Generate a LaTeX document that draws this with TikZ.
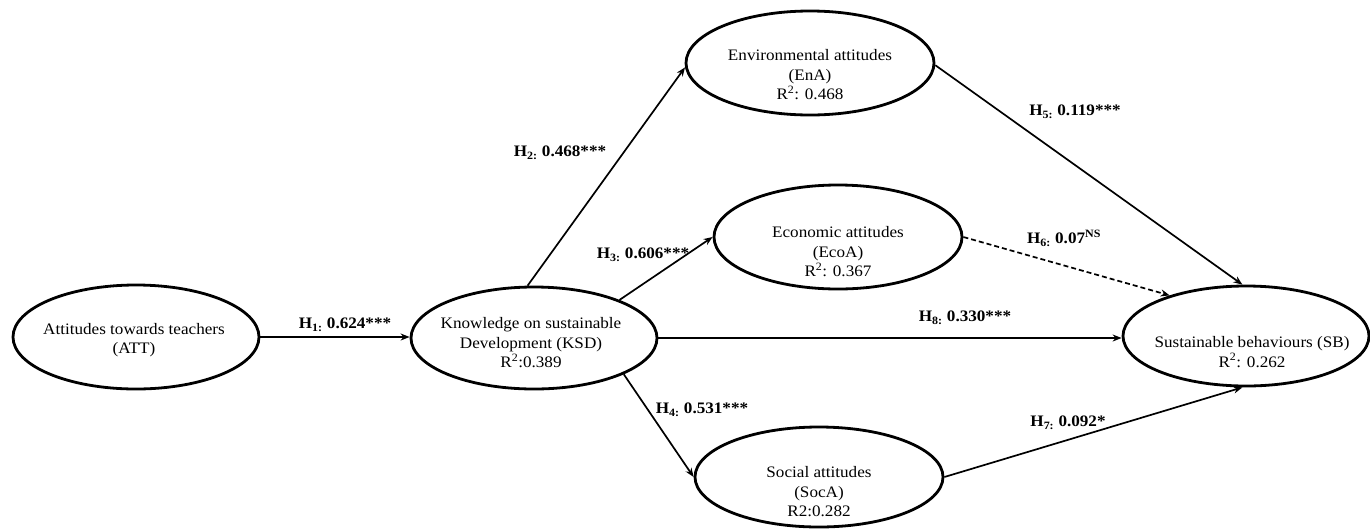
\documentclass[tikz,border=0pt]{standalone}
\usepackage{fontspec}
\setmainfont{Liberation Serif}[FakeStretch=1.07]
\usetikzlibrary{shapes.geometric,arrows.meta}
\begin{document}
\begin{tikzpicture}[x=1pt,y=-1pt,
  construct/.style={draw, ellipse, line width=2.8pt, inner sep=0pt},
  lbl/.style={font=\fontsize{16}{19.5}\selectfont, align=center, inner sep=0pt},
  hyp/.style={font=\bfseries\fontsize{16}{18}\selectfont, inner sep=0pt},
  relpath/.style={line width=1.7pt, -{Stealth[length=9pt,width=7pt]}},
  nspath/.style={relpath, dash pattern=on 5pt off 3pt}]
\useasboundingbox (0,0) rectangle (1370,528);

% constructs
\node[construct, minimum width=246pt, minimum height=104pt] (ATT) at (136,337) {};
\node[lbl] (ATTt) at (134,340) {Attitudes towards teachers\\(ATT)};

\node[construct, minimum width=246pt, minimum height=102pt] (KSD) at (534,338) {};
\node[lbl] (KSDt) at (531,343) {Knowledge on sustainable\\Development (KSD)\\R\textsuperscript{2}:0.389};

\node[construct, minimum width=248pt, minimum height=104pt] (EnA) at (810,63) {};
\node[lbl] (EnAt) at (810,75) {Environmental attitudes\\(EnA)\\R\textsuperscript{2}: 0.468};

\node[construct, minimum width=248pt, minimum height=104pt] (EcoA) at (838,237) {};
\node[lbl] (EcoAt) at (838,252) {Economic attitudes\\(EcoA)\\R\textsuperscript{2}: 0.367};

\node[construct, minimum width=248pt, minimum height=100pt] (SocA) at (819,477) {};
\node[lbl] (SocAt) at (819,492) {Social attitudes\\(SocA)\\R2:0.282};

\node[construct, minimum width=246pt, minimum height=100pt] (SB) at (1246,336) {};
\node[lbl] (SBt) at (1252,352) {Sustainable behaviours (SB)\\R\textsuperscript{2}: 0.262};

% paths
\draw[relpath] (ATT.east) -- (ATT.east -| KSD.west);
\draw[relpath] (KSD.97) -- (EnA.182);
\draw[relpath] (KSD.24) -- (EcoA.west);
\draw[relpath] (KSD.-22) -- (SocA.west);
\draw[relpath] (EnA.-1) -- (SB.94);
\draw[nspath] (EcoA.east) -- (SB.152);
\draw[relpath] (SocA.east) -- (SB.-94);
\draw[relpath] (KSD.east) -- (KSD.east -| SB.west);

% coefficients
\node[hyp] (h1) at (345,325) {H\textsubscript{1:} 0.624***};
\node[hyp] (h2) at (560,153) {H\textsubscript{2:} 0.468***};
\node[hyp] (h3) at (643,255) {H\textsubscript{3:} 0.606***};
\node[hyp] (h4) at (702,410) {H\textsubscript{4:} 0.531***};
\node[hyp] (h5) at (1075,112) {H\textsubscript{5:} 0.119***};
\node[hyp] (h6) at (1064,238) {H\textsubscript{6:} 0.07\textsuperscript{NS}};
\node[hyp] (h7) at (1068,423) {H\textsubscript{7:} 0.092*};
\node[hyp] (h8) at (965,318) {H\textsubscript{8:} 0.330***};
\end{tikzpicture}
\end{document}
